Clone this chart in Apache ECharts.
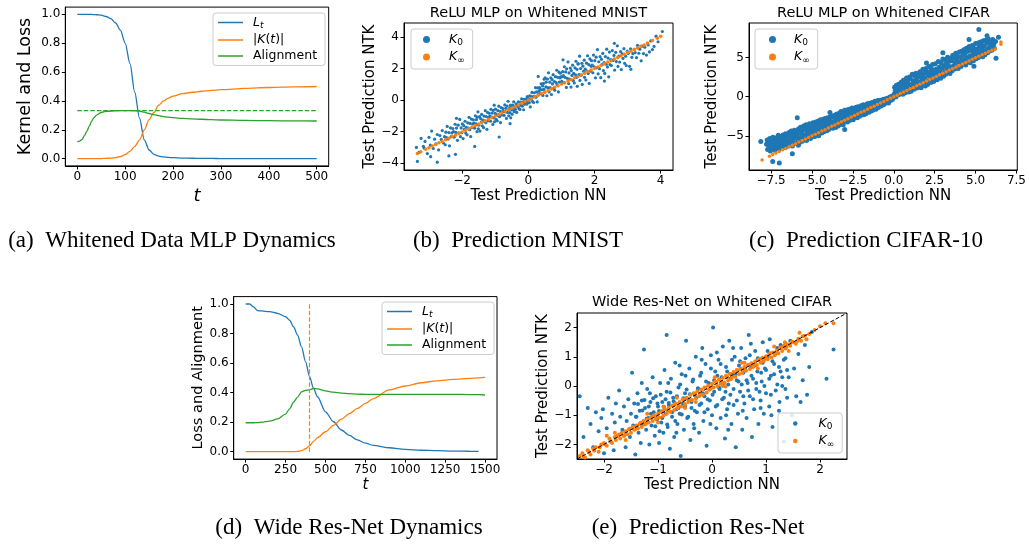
<!DOCTYPE html>
<html>
<head>
<meta charset="utf-8">
<script src="https://cdn.jsdelivr.net/npm/echarts@6/dist/echarts.min.js"></script>
<style>
  html, body { margin: 0; padding: 0; background: #fff; }
  #chart { width: 1029px; height: 544px; }
</style>
</head>
<body>
<div id="chart"></div>
<script>
// ---- (a) whitened MLP dynamics ----
const aT = [0,5,10,15,20,25,30,35,40,50,60,70,80,90,100,110,120,130,140,150,160,170,180,190,200,220,240,260,280,300,350,400,450,500]
const aLoss = [1.0,1.0,1.0,1.0,1.0,0.999,0.999,0.998,0.997,0.994,0.985,0.97,0.94,0.89,0.8,0.66,0.46,0.28,0.13,0.06,0.03,0.018,0.012,0.009,0.007,0.004,0.003,0.002,0.0015,0.001,0.0005,0.0003,0.0002,0.0001]
const aKern = [0,0,0,0,0,0,0,0,0,0.001,0.002,0.004,0.008,0.015,0.028,0.05,0.085,0.13,0.2,0.27,0.32,0.37,0.4,0.42,0.433,0.45,0.46,0.467,0.473,0.478,0.487,0.493,0.497,0.5]
const aAlign = [0.118,0.122,0.134,0.16,0.19,0.225,0.26,0.285,0.302,0.32,0.327,0.33,0.332,0.333,0.333,0.333,0.332,0.33,0.322,0.313,0.305,0.298,0.292,0.288,0.284,0.279,0.276,0.273,0.27,0.268,0.265,0.263,0.262,0.261]
const aLevel = 0.333

// ---- (d) wide res-net dynamics ----
const dT = [0,25,50,75,100,150,200,250,275,300,325,350,375,400,425,450,500,550,600,650,700,750,800,900,1000,1100,1200,1300,1400,1460,1500]
const dLoss = [1.0,1.0,0.98,0.955,0.953,0.948,0.937,0.914,0.89,0.846,0.79,0.71,0.61,0.51,0.43,0.372,0.27,0.203,0.147,0.11,0.08,0.058,0.043,0.027,0.016,0.01,0.007,0.004,0.003,0.002,null]
const dKern = [0,0,0,0,0,0,0,0,0,0,0.002,0.007,0.02,0.04,0.07,0.095,0.135,0.178,0.22,0.258,0.293,0.327,0.36,0.418,0.445,0.467,0.48,0.49,0.497,0.5,0.503]
const dAlign = [0.196,0.196,0.196,0.197,0.2,0.207,0.222,0.255,0.29,0.335,0.37,0.405,0.415,0.42,0.428,0.425,0.412,0.403,0.397,0.393,0.39,0.388,0.388,0.388,0.388,0.388,0.388,0.388,0.387,0.386,0.384]
const dMarkT = 400

// ---- (b) MNIST predictions: [NN, NTK] ----
const bK0 = [[-3.38,-3.01],[-3.3,-3.32],[-3.24,-2.44],[-3.17,-2.94],[-3.12,-2.63],[-3.05,-3.4],[-3.0,-2.37],[-2.96,-2.86],[-2.92,-1.97],[-2.87,-3.08],[-2.83,-2.49],[-2.79,-2.79],[-2.75,-2.19],[-2.71,-3.17],[-2.67,-2.26],[-2.63,-2.5],[-2.6,-1.94],[-2.56,-2.73],[-2.53,-2.33],[-2.51,-2.84],
  [-2.49,-2.04],[-2.47,-2.38],[-2.45,-1.68],[-2.42,-2.48],[-2.4,-2.07],[-2.38,-2.91],[-2.35,-1.77],[-2.33,-2.33],[-2.31,-2.09],[-2.28,-1.81],[-2.26,-2.01],[-2.24,-2.36],[-2.21,-1.54],[-2.19,-2.06],[-2.17,-1.78],[-2.14,-2.56],[-2.12,-1.6],[-2.1,-2.08],[-2.07,-1.23],[-2.05,-2.33],[-2.03,-1.77],[-2.01,-2.08],
  [-1.99,-1.52],[-1.97,-2.45],[-1.95,-1.63],[-1.93,-1.86],[-1.91,-1.35],[-1.89,-2.1],[-1.87,-1.73],[-1.85,-2.21],[-1.83,-1.45],[-1.81,-1.79],[-1.79,-1.1],[-1.77,-1.89],[-1.76,-1.49],[-1.74,-2.32],[-1.72,-1.21],[-1.7,-1.76],[-1.68,-1.52],[-1.66,-1.26],[-1.64,-1.46],[-1.62,-1.79],[-1.6,-1.0],[-1.58,-1.51],[-1.57,-1.25],[-1.55,-2.01],[-1.54,-1.09],[-1.53,-1.57],[-1.52,-0.75],[-1.51,-1.83],
  [-1.49,-1.59],[-1.47,-1.06],[-1.46,-1.97],[-1.44,-1.18],[-1.42,-1.4],[-1.41,-0.91],[-1.39,-1.64],[-1.37,-1.28],[-1.35,-1.75],[-1.34,-1.02],[-1.32,-1.34],[-1.3,-0.68],[-1.28,-1.44],[-1.27,-1.05],[-1.25,-1.86],[-1.23,-0.79],[-1.21,-1.31],[-1.2,-1.1],[-1.18,-0.84],[-1.16,-1.02],[-1.14,-1.35],[-1.13,-0.59],[-1.11,-1.08],[-1.09,-0.83],[-1.07,-1.55],[-1.06,-0.66],[-1.04,-1.13],[-1.03,-0.33],[-1.02,-1.38],[-1.0,-0.85],
  [-0.99,-0.58],[-0.97,-1.23],[-0.96,-0.92],[-0.94,-1.32],[-0.92,-0.68],[-0.91,-0.97],[-0.89,-0.39],[-0.87,-1.06],[-0.85,-0.72],[-0.84,-1.43],[-0.82,-0.48],[-0.8,-0.95],[-0.78,-0.75],[-0.77,-0.54],[-0.75,-0.7],[-0.73,-0.98],[-0.71,-0.31],[-0.7,-0.75],[-0.68,-0.53],[-0.66,-1.17],[-0.64,-0.38],[-0.63,-0.79],[-0.61,-0.08],[-0.59,-1.0],[-0.57,-0.53],[-0.56,-0.8],[-0.54,-0.33],[-0.53,-1.13],[-0.52,-0.44],[-0.5,-0.63],
  [-0.49,-0.9],[-0.47,-0.33],[-0.46,-0.61],[-0.44,-0.11],[-0.42,-0.74],[-0.41,-0.42],[-0.39,-0.59],[-0.37,-0.24],[-0.35,-0.79],[-0.34,-0.29],[-0.32,-0.42],[-0.3,-0.11],[-0.28,-0.55],[-0.27,-0.33],[-0.25,-0.6],[-0.23,-0.14],[-0.21,-0.33],[-0.2,0.08],[-0.18,-0.39],[-0.16,-0.14],[-0.14,-0.62],[-0.13,0.04],[-0.11,-0.27],[-0.09,-0.12],[-0.07,0.05],[-0.06,-0.07],[-0.04,-0.26],[-0.03,0.21],[-0.02,-0.09],[0.0,0.08],
  [0.01,0.05],[0.03,-0.17],[0.04,0.27],[0.06,-0.44],[0.08,0.23],[0.09,0.05],[0.11,0.48],[0.13,-0.1],[0.15,0.22],[0.16,-0.16],[0.18,0.46],[0.2,0.23],[0.22,0.78],[0.23,0.17],[0.25,0.51],[0.27,-0.12],[0.29,0.77],[0.3,0.34],[0.32,0.55],[0.34,0.78],[0.36,0.65],[0.37,0.39],[0.39,1.03],[0.41,0.65],[0.43,0.89],[0.44,0.29],[0.46,1.05],[0.47,0.68],[0.48,1.32],[0.5,0.51],
  [0.51,1.41],[0.53,0.83],[0.54,1.13],[0.56,0.27],[0.58,1.33],[0.59,0.78],[0.61,1.73],[0.63,0.51],[0.65,1.13],[0.66,0.78],[0.68,1.41],[0.7,0.35],[0.72,1.29],[0.73,1.02],[0.75,1.61],[0.77,0.75],[0.79,1.17],[0.8,0.62],[0.82,1.48],[0.84,1.11],[0.86,1.89],[0.87,0.98],[0.89,1.44],[0.91,0.51],[0.93,1.77],[0.94,1.14],[0.96,1.4],[0.97,1.7],[0.98,1.47],[1.0,1.09],
  [1.01,1.19],[1.03,1.48],[1.04,1.8],[1.06,1.55],[1.08,1.11],[1.09,2.11],[1.11,1.44],[1.13,1.78],[1.15,0.8],[1.16,1.98],[1.18,1.37],[1.2,2.42],[1.22,1.04],[1.23,1.72],[1.25,1.33],[1.27,2.03],[1.29,0.82],[1.3,1.87],[1.32,1.56],[1.34,2.21],[1.36,1.23],[1.37,1.69],[1.39,1.08],[1.41,2.04],[1.43,1.6],[1.44,2.46],[1.46,1.44],[1.47,1.95],[1.48,0.87],[1.5,2.29],
  [1.51,2.3],[1.53,1.61],[1.55,2.78],[1.56,1.24],[1.58,2.0],[1.6,1.57],[1.62,2.33],[1.63,0.99],[1.65,2.15],[1.67,1.82],[1.69,2.53],[1.7,1.44],[1.72,1.96],[1.74,1.27],[1.76,2.34],[1.77,1.84],[1.79,2.81],[1.81,1.68],[1.83,2.24],[1.84,1.05],[1.86,2.61],[1.88,1.83],[1.9,2.14],[1.91,2.5],[1.93,2.22],[1.95,1.73],[1.97,2.85],[1.99,2.11],
  [2.01,2.5],[2.03,1.41],[2.05,2.72],[2.07,2.04],[2.09,3.2],[2.11,1.66],[2.13,2.43],[2.15,1.99],[2.17,2.75],[2.19,1.42],[2.21,2.58],[2.23,2.24],[2.25,2.96],[2.27,1.87],[2.29,2.38],[2.31,1.69],[2.33,2.76],[2.35,2.27],[2.37,3.23],[2.39,2.1],[2.41,2.66],[2.43,1.47],[2.45,3.04],[2.47,2.25],[2.49,2.56],
  [2.51,2.19],[2.54,3.14],[2.56,2.51],[2.59,2.83],[2.61,1.9],[2.64,3.03],[2.66,2.44],[2.69,3.44],[2.71,2.13],[2.74,2.79],[2.76,2.41],[2.79,3.07],[2.81,1.93],[2.84,2.93],[2.86,2.64],[2.89,3.26],[2.91,2.33],[2.94,2.78],[2.96,2.19],[2.99,3.1],
  [3.02,2.96],[3.06,2.14],[3.09,3.25],[3.13,2.71],[3.16,2.94],[3.2,3.21],[3.23,3.01],[3.27,2.69],[3.3,3.47],[3.34,2.97],[3.37,3.23],[3.41,2.49],[3.44,3.42],[3.48,2.95],
  [3.52,3.35],[3.57,2.85],[3.62,3.5],[3.66,3.05],[3.7,3.75],[3.75,3.2],[3.8,3.4],[3.86,4.05],[3.92,3.7],[4.05,4.35],
  [-3.35,-3.9],[-2.75,-3.95],[-2.95,-3.6],[-2.4,-3.55],[-2.2,-3.45],[-1.62,-2.95],[-0.88,-2.35],[-0.55,-1.5],[-2.17,-1.16],[-3.15,-3.05],[0.3,1.5],[1.05,2.55],[2.6,3.6],[3.1,1.95],[2.3,1.2]]
const bKinf = [[-3.35,-3.4],[-3.25,-3.28],[-3.1,-3.12],[-3.0,-3.03],[-2.9,-2.92],[-2.8,-2.83],[-2.7,-2.72],[-2.6,-2.63],[-2.5,-2.52],[-2.4,-2.43],[-2.3,-2.32],[-2.2,-2.23],[-2.1,-2.12],[-2.0,-2.03],[-1.9,-1.92],[-1.8,-1.82],[-1.7,-1.72],[-1.6,-1.62],[-1.5,-1.52],[-1.4,-1.42],[-1.3,-1.32],[-1.2,-1.22],[-1.1,-1.12],[-1.0,-1.02],[-0.9,-0.92],[-0.8,-0.82],[-0.7,-0.72],[-0.6,-0.62],[-0.5,-0.52],[-0.4,-0.41],[-0.3,-0.31],[-0.2,-0.21],[-0.1,-0.1],[0.0,0.0],[0.1,0.1],[0.2,0.21],[0.3,0.3],[0.4,0.41],[0.5,0.5],[0.6,0.61],[0.7,0.7],[0.8,0.81],[0.9,0.9],[1.0,1.01],[1.1,1.1],[1.2,1.21],[1.3,1.3],[1.4,1.41],[1.5,1.5],[1.6,1.61],[1.7,1.7],[1.8,1.81],[1.9,1.9],[2.0,2.01],[2.1,2.1],[2.2,2.21],[2.3,2.3],[2.4,2.41],[2.5,2.5],[2.6,2.61],[2.7,2.7],[2.8,2.81],[2.9,2.9],[3.0,3.01],[3.1,3.1],[3.2,3.21],[3.3,3.3],[3.4,3.41],[3.5,3.5],[3.6,3.62],[3.75,3.77],[3.9,3.92],[4.0,4.05]]

// ---- (c) CIFAR predictions ----
const cK0 = [[-7.78,-6.1],[-7.74,-5.55],[-7.71,-6.75],[-7.66,-5.9],[-7.63,-6.4],[-7.58,-5.35],[-7.55,-6.95],[-7.5,-6.05],[-7.47,-5.6],[-7.43,-6.6],[-7.39,-5.2],[-7.35,-6.3],[-7.31,-5.75],
  [-7.28,-6.85],[-7.25,-5.95],[-7.22,-5.3],[-7.18,-6.5],[-7.14,-5.65],[-7.1,-6.1],[-7.06,-4.95],[-7.02,-6.7],[-6.99,-5.45],[-6.95,-6.25],[-6.91,-5.1],[-6.87,-5.85],[-6.84,-6.55],[-6.8,-5.3],
  [-6.77,-4.9],[-6.74,-6.2],[-6.7,-5.6],[-6.66,-6.5],[-6.62,-4.75],[-6.59,-5.3],[-6.55,-5.95],[-6.51,-4.95],[-6.48,-6.35],[-6.44,-5.5],[-6.4,-4.6],[-6.37,-5.85],[-6.33,-6.15],[-6.3,-5.05],
  [-6.27,-4.4],[-6.23,-5.6],[-6.2,-6.3],[-6.16,-4.85],[-6.12,-5.35],[-6.08,-4.3],[-6.05,-5.95],[-6.01,-5.1],[-5.97,-4.55],[-5.94,-6.0],[-5.9,-4.95],[-5.86,-5.55],[-5.83,-4.15],[-5.8,-5.3],
  [-5.77,-5.9],[-5.73,-4.6],[-5.7,-3.9],[-5.66,-5.2],[-5.62,-4.35],[-5.59,-5.7],[-5.55,-4.85],[-5.51,-3.75],[-5.48,-5.45],[-5.44,-4.2],[-5.4,-4.95],[-5.37,-3.6],[-5.33,-5.6],[-5.3,-4.5],
  [-5.27,-3.9],[-5.23,-5.25],[-5.2,-4.7],[-5.16,-3.45],[-5.12,-4.15],[-5.09,-5.35],[-5.05,-3.7],[-5.01,-4.55],[-4.98,-5.05],[-4.94,-3.35],[-4.9,-4.3],[-4.87,-3.85],[-4.83,-5.1],[-4.8,-4.0],
  [-4.77,-3.25],[-4.73,-4.7],[-4.7,-3.75],[-4.66,-4.25],[-4.62,-3.1],[-4.59,-5.0],[-4.55,-3.55],[-4.51,-4.45],[-4.48,-2.95],[-4.44,-3.9],[-4.4,-4.65],[-4.37,-3.3],[-4.33,-4.05],[-4.3,-2.9],
  [-4.27,-4.5],[-4.23,-3.5],[-4.2,-2.8],[-4.16,-3.95],[-4.12,-3.15],[-4.09,-4.35],[-4.05,-2.7],[-4.01,-3.65],[-3.98,-4.2],[-3.94,-3.0],[-3.9,-3.45],[-3.87,-2.55],[-3.83,-3.9],[-3.8,-3.25],
  [-3.77,-2.6],[-3.73,-4.05],[-3.7,-3.35],[-3.66,-2.4],[-3.62,-3.7],[-3.59,-2.9],[-3.55,-3.95],[-3.51,-2.25],[-3.48,-3.2],[-3.44,-2.65],[-3.4,-3.75],[-3.37,-2.15],[-3.33,-3.05],[-3.3,-3.55],
  [-3.27,-2.4],[-3.23,-1.9],[-3.2,-3.3],[-3.16,-2.7],[-3.12,-2.05],[-3.09,-3.6],[-3.05,-2.45],[-3.01,-1.75],[-2.98,-3.1],[-2.94,-2.25],[-2.9,-2.8],[-2.87,-1.7],[-2.83,-3.25],[-2.8,-2.0],
  [-2.77,-2.6],[-2.73,-1.6],[-2.7,-3.05],[-2.66,-2.15],[-2.62,-1.85],[-2.59,-2.8],[-2.55,-1.45],[-2.51,-2.4],[-2.48,-2.95],[-2.44,-1.7],[-2.4,-2.15],[-2.37,-2.65],[-2.33,-1.4],[-2.3,-2.3],
  [-2.27,-1.75],[-2.23,-2.7],[-2.2,-1.3],[-2.16,-2.2],[-2.12,-1.55],[-2.09,-2.5],[-2.05,-1.9],[-2.01,-1.15],[-1.98,-2.35],[-1.94,-1.6],[-1.9,-2.05],[-1.87,-1.05],[-1.83,-2.3],[-1.8,-1.45],
  [-1.77,-1.9],[-1.73,-1.1],[-1.7,-2.2],[-1.66,-1.4],[-1.62,-0.9],[-1.59,-1.75],[-1.55,-1.25],[-1.51,-2.0],[-1.48,-0.85],[-1.44,-1.55],[-1.4,-1.1],[-1.37,-1.85],[-1.33,-0.75],[-1.3,-1.35],
  [-1.27,-1.7],[-1.23,-0.95],[-1.2,-1.4],[-1.16,-0.6],[-1.12,-1.15],[-1.09,-1.6],[-1.05,-0.7],[-1.01,-1.25],[-0.98,-0.5],[-0.94,-1.4],[-0.9,-0.85],[-0.87,-1.15],[-0.83,-0.45],[-0.8,-0.95],
  [-0.77,-1.2],[-0.73,-0.55],[-0.7,-0.85],[-0.66,-0.35],[-0.62,-1.05],[-0.58,-0.6],[-0.55,-0.3],[-0.51,-0.85],[-0.47,-0.45],[-0.43,-0.7],[-0.4,-0.2],[-0.36,-0.55],[-0.32,-0.8],[-0.28,-0.3],[-0.24,-0.05],[-0.2,-0.5],[-0.16,-0.25],[-0.12,0.05],[-0.08,-0.35],[-0.04,-0.1],
  [0.02,0.3],[0.05,1.2],[0.09,0.75],[0.12,-0.05],[0.16,1.45],[0.19,0.5],[0.23,1.0],[0.27,0.2],[0.3,1.6],[0.34,0.8],[0.38,0.35],[0.41,1.25],[0.45,1.85],[0.48,0.6],
  [0.52,1.5],[0.56,0.3],[0.59,2.1],[0.63,0.95],[0.67,1.7],[0.7,0.5],[0.74,1.25],[0.78,2.4],[0.81,0.8],[0.85,1.9],[0.89,1.4],[0.92,0.6],[0.96,2.5],[0.99,1.1],
  [1.02,2.3],[1.06,0.7],[1.09,1.6],[1.13,2.85],[1.17,1.15],[1.2,2.0],[1.24,0.95],[1.28,2.65],[1.31,1.5],[1.35,3.0],[1.38,2.2],[1.42,1.1],[1.46,1.8],[1.49,2.9],
  [1.53,1.4],[1.56,2.5],[1.6,3.2],[1.64,1.9],[1.67,1.15],[1.71,2.75],[1.75,2.2],[1.78,3.5],[1.82,1.6],[1.86,2.95],[1.89,2.35],[1.93,1.35],[1.97,3.6],[2.0,2.05],
  [2.04,3.2],[2.07,1.55],[2.11,2.7],[2.15,3.85],[2.18,2.1],[2.22,3.05],[2.26,1.8],[2.29,3.55],[2.33,2.5],[2.37,4.1],[2.4,2.95],[2.44,1.95],[2.47,3.4],[2.5,2.35],
  [2.54,4.2],[2.57,2.7],[2.61,3.55],[2.65,2.15],[2.68,3.1],[2.72,4.5],[2.76,2.55],[2.79,3.8],[2.83,3.25],[2.87,2.35],[2.9,4.35],[2.94,2.9],[2.97,3.65],[3.0,4.8],
  [3.04,2.6],[3.07,3.95],[3.11,3.2],[3.15,4.7],[3.18,2.85],[3.22,4.25],[3.26,3.6],[3.29,5.05],[3.33,3.05],[3.37,4.5],[3.4,3.85],[3.44,2.95],[3.47,4.95],[3.5,3.4],
  [3.54,4.6],[3.57,3.3],[3.61,5.3],[3.65,3.95],[3.68,4.9],[3.72,3.55],[3.76,4.3],[3.79,5.55],[3.83,3.7],[3.87,4.65],[3.9,5.2],[3.94,3.6],[3.97,4.4],[4.0,5.7],
  [4.04,4.0],[4.07,5.05],[4.11,3.85],[4.15,5.8],[4.18,4.55],[4.22,5.3],[4.26,4.15],[4.29,6.0],[4.33,4.75],[4.37,5.55],[4.4,4.05],[4.44,6.2],[4.47,5.0],[4.5,4.4],
  [4.54,5.8],[4.57,4.5],[4.61,6.4],[4.65,5.2],[4.68,4.35],[4.72,5.95],[4.76,4.8],[4.79,6.55],[4.83,5.45],[4.87,4.6],[4.9,6.2],[4.94,5.05],[4.97,5.7],[5.0,6.8],
  [5.04,4.85],[5.07,6.05],[5.11,5.4],[5.15,6.85],[5.18,5.0],[5.22,6.4],[5.26,5.75],[5.29,7.0],[5.33,5.25],[5.37,6.6],[5.4,6.05],[5.44,5.1],[5.47,7.15],[5.5,5.7],
  [5.54,6.5],[5.58,5.35],[5.62,7.2],[5.66,6.0],[5.7,6.85],[5.74,5.6],[5.78,7.4],[5.82,6.3],[5.86,5.85],[5.9,7.0],[5.95,6.55],[6.0,5.95],[6.05,7.3],[6.1,6.7],[6.15,6.2],[6.22,7.05],
  [-8.13,-5.75],[-7.4,-8.3],[-7.0,-8.5],[-5.83,-6.2],[-3.9,-2.03],[-6.2,-7.3],[-5.9,-2.7],[-3.0,-4.2],[5.2,8.6],[4.6,7.3],[5.7,7.8],[6.25,4.9],[3.0,5.6],[6.4,7.6],[2.0,4.3],[4.9,3.9]]
const cKinf = [[-7.6,-7.62],[-7.4,-7.4],[-7.2,-7.22],[-7.0,-7.02],[-6.8,-6.8],[-6.6,-6.62],[-6.4,-6.41],[-6.2,-6.2],[-6.0,-6.02],[-5.8,-5.81],[-5.6,-5.6],[-5.4,-5.42],[-5.2,-5.21],[-5.0,-5.0],[-4.8,-4.82],[-4.6,-4.61],[-4.4,-4.4],[-4.2,-4.22],[-4.0,-4.01],[-3.8,-3.8],[-3.6,-3.62],[-3.4,-3.41],[-3.2,-3.2],[-3.0,-3.02],[-2.8,-2.81],[-2.6,-2.6],[-2.4,-2.42],[-2.2,-2.21],[-2.0,-2.0],[-1.8,-1.82],[-1.6,-1.61],[-1.4,-1.4],[-1.2,-1.22],[-1.0,-1.01],[-0.8,-0.8],[-0.6,-0.62],[-0.4,-0.41],[-0.2,-0.2],[0.0,-0.02],[0.2,0.19],[0.4,0.4],[0.6,0.58],[0.8,0.79],[1.0,1.0],[1.2,1.18],[1.4,1.39],[1.6,1.6],[1.8,1.78],[2.0,1.99],[2.2,2.2],[2.4,2.38],[2.6,2.59],[2.8,2.8],[3.0,2.98],[3.2,3.19],[3.4,3.4],[3.6,3.58],[3.8,3.77],[4.0,3.98],[4.2,4.17],[4.4,4.38],[4.6,4.57],[4.8,4.77],[5.0,4.96],[5.2,5.17],[5.4,5.36],[5.6,5.56],[5.8,5.75],[6.0,5.95],[6.2,6.1],[-8.05,-8.1],[6.55,6.7],[6.55,7.0]]

// ---- (e) Res-Net predictions ----
const eK0 = [[-2.45,-0.35],[-2.38,-1.75],[-2.3,-0.75],[-2.25,-1.3],[-2.2,-2.1],[-2.15,-0.9],[-2.1,-1.55],[-2.05,-1.1],[-2.02,-0.8],[-2.0,-2.3],
  [-1.95,-1.45],[-1.92,-0.4],[-1.88,-1.9],[-1.85,-0.95],[-1.82,-2.2],[-1.8,-1.25],[-1.78,-0.6],[-1.75,-1.7],[-1.72,-0.15],[-1.7,-1.05],[-1.66,-1.5],[-1.63,-0.7],[-1.6,-2.1],[-1.58,-1.2],[-1.55,-0.45],[-1.52,-1.75],[-1.5,-0.95],
  [-1.48,0.45],[-1.46,-1.35],[-1.44,-0.6],[-1.42,-2.35],[-1.4,-1.05],[-1.38,-0.25],[-1.36,-1.6],[-1.34,-0.85],[-1.32,-1.95],[-1.3,-0.5],[-1.28,-1.3],[-1.26,1.25],[-1.24,-0.75],[-1.22,-1.5],[-1.2,-0.1],[-1.18,-1.1],[-1.16,-2.0],[-1.14,-0.55],[-1.12,-1.35],[-1.1,0.3],[-1.08,-0.9],[-1.06,-1.7],[-1.04,-0.35],[-1.02,-1.15],[-1.0,-0.7],
  [-0.98,-1.95],[-0.96,0.1],[-0.94,-1.25],[-0.92,-0.55],[-0.9,-1.6],[-0.88,0.55],[-0.86,-0.95],[-0.84,1.75],[-0.84,-0.2],[-0.82,-1.4],[-0.8,-0.65],[-0.78,-2.15],[-0.76,0.25],[-0.74,-1.05],[-0.72,-0.4],[-0.7,-1.75],[-0.68,0.8],[-0.66,-0.8],[-0.64,-1.3],[-0.62,-0.05],[-0.6,-0.95],[-0.58,-2.4],[-0.56,0.4],[-0.54,-0.6],[-0.52,-1.5],[-0.5,-0.25],
  [-0.48,1.55],[-0.46,-1.1],[-0.44,-0.45],[-0.42,0.6],[-0.4,-1.85],[-0.38,-0.75],[-0.36,0.15],[-0.34,-1.3],[-0.32,-0.3],[-0.3,1.0],[-0.28,-0.9],[-0.26,-0.1],[-0.24,-1.6],[-0.22,0.35],[-0.2,-0.6],[-0.18,1.3],[-0.16,-1.2],[-0.14,-0.35],[-0.12,0.75],[-0.1,-2.05],[-0.08,-0.8],[-0.06,0.1],[-0.04,-0.5],[-0.02,1.05],[0.0,-1.0],
  [0.02,2.0],[0.04,-0.2],[0.06,0.5],[0.08,-1.45],[0.1,-0.65],[0.12,0.9],[0.14,-0.1],[0.16,-1.1],[0.18,0.3],[0.2,1.35],[0.22,-0.4],[0.24,-1.8],[0.26,0.65],[0.28,-0.8],[0.3,0.05],[0.32,1.55],[0.34,-0.3],[0.36,-1.3],[0.38,0.4],[0.4,-0.65],[0.42,1.0],[0.44,-2.1],[0.46,0.2],[0.48,-0.95],[0.5,0.7],
  [0.52,-0.2],[0.54,1.3],[0.56,-1.5],[0.58,0.45],[0.6,-0.6],[0.62,0.95],[0.64,-1.1],[0.66,0.1],[0.68,1.75],[0.7,-0.35],[0.72,0.65],[0.74,-1.75],[0.76,0.25],[0.78,-0.8],[0.8,1.2],[0.82,-0.1],[0.84,0.5],[0.86,-1.3],[0.88,0.9],[0.9,-0.5],[0.92,0.15],[0.94,1.5],[0.96,-0.95],[0.98,0.6],[1.0,-0.25],
  [1.03,1.0],[1.06,-0.7],[1.09,0.35],[1.12,-1.4],[1.15,0.75],[1.18,-0.15],[1.21,1.3],[1.24,-0.85],[1.27,0.5],[1.3,0.0],[1.33,-1.9],[1.36,0.95],[1.39,-0.4],[1.42,0.3],[1.45,1.55],[1.48,-1.0],
  [1.52,0.6],[1.56,-0.35],[1.6,1.1],[1.64,-0.55],[1.68,0.2],[1.72,1.4],[1.76,-0.3],[1.8,0.65],[1.85,1.85],[2.12,0.25],[2.25,1.25],
  [-1.41,-1.05],[-1.37,-0.62],[-1.33,-1.28],[-1.29,-0.84],[-1.25,-0.48],[-1.21,-1.12],[-1.17,-0.7],[-1.13,-0.95],[-1.09,-0.42],[-1.05,-1.38],[-1.01,-0.6],[-0.98,-0.86],[-0.95,-0.3],[-0.92,-1.1],[-0.89,-0.72],[-0.86,-0.45],[-0.83,-1.32],[-0.8,-0.58],[-0.77,-0.22],[-0.74,-0.9],[-0.71,-0.52],[-0.68,-1.2],[-0.65,-0.35],[-0.62,-0.75],[-0.59,0.05],[-0.56,-0.98],[-0.53,-0.42],[-0.5,-0.7],[-0.47,-0.12],[-0.44,-1.05],[-0.41,-0.28],[-0.38,-0.55],[-0.35,0.22],[-0.32,-0.85],[-0.29,-0.4],[-0.26,-0.08],[-0.23,-0.65],[-0.2,0.45],[-0.17,-0.25],[-0.14,-0.9],[-0.11,0.15],[-0.08,-0.45],[-0.05,-0.12],[-0.02,0.6],[0.01,-0.3],[0.04,0.2],[0.07,-0.7],[0.1,0.35],[0.13,-0.05],[0.16,0.75],[0.19,-0.45],[0.22,0.1],[0.25,-0.2],[0.28,0.5],[0.31,-0.6],[0.34,0.25],[0.37,0.9],[0.4,-0.1],[0.43,0.4],[0.46,-0.5],[0.49,0.15],[0.52,0.85],[0.55,0.05],[0.58,-0.35],[0.61,0.6],[0.64,0.2],[0.67,-0.15],[0.7,1.05],[0.73,0.35],[0.76,-0.45],[0.79,0.7],[0.82,0.1],[0.85,0.95],[0.88,-0.2],[0.91,0.45],[0.94,0.8],[0.97,0.0],[1.0,0.55],[1.03,1.2],[1.06,0.25],[1.09,-0.3],[1.12,0.85],[1.15,0.4],[1.18,1.1],[1.21,0.05],[1.24,0.65],[1.27,1.4],[1.3,0.3],[1.33,0.9],[1.36,-0.1],[1.39,0.55],
  [-1.15,-0.25],[-0.97,-1.55],[-0.81,0.1],[-0.66,-1.6],[-0.49,0.35],[-0.33,-1.45],[-0.19,0.9],[-0.03,-1.3],[0.09,1.15],[0.26,-1.0],[0.39,1.3],[0.57,-0.85],[0.72,1.45],[0.9,-0.75],[1.07,1.6],[1.25,-0.55],[-1.3,0.1],[-0.6,0.7],[0.3,-1.5],[1.1,-1.0]]
const eKinf = [[-2.45,-2.4],[-2.4,-2.3],[-2.35,-2.45],[-2.3,-2.2],[-2.25,-2.35],[-2.2,-2.15],[-2.15,-2.1],[-2.1,-2.25],[-2.05,-2.0],[-2.0,-1.95],[-1.95,-2.05],[-1.9,-1.8],[-1.85,-1.95],[-1.8,-1.75],[-1.8,-1.6],[-1.78,-1.85],[-1.75,-1.7],[-1.7,-1.8],[-1.67,-1.6],[-1.64,-1.7],[-1.6,-1.55],[-1.57,-1.65],[-1.54,-1.48],[-1.5,-1.6],[-1.47,-1.4],[-1.44,-1.5],[-1.4,-1.35],[-1.37,-1.45],[-1.34,-1.3],[-1.3,-1.4],[-1.27,-1.2],[-1.24,-1.32],[-1.2,-1.15],[-1.17,-1.25],[-1.14,-1.1],[-1.1,-1.2],[-1.07,-1.0],[-1.04,-1.12],[-1.0,-0.95],[-0.97,-1.08],[-0.94,-0.9],[-0.9,-1.02],[-0.9,-0.7],[-0.87,-0.8],[-0.84,-0.95],[-0.8,-0.75],[-0.77,-0.88],[-0.74,-0.68],[-0.7,-0.82],[-0.67,-0.6],[-0.64,-0.75],[-0.6,-0.55],[-0.57,-0.7],[-0.54,-0.45],[-0.5,-0.62],[-0.5,-0.75],[-0.47,-0.4],[-0.44,-0.55],[-0.4,-0.3],[-0.37,-0.48],[-0.34,-0.25],[-0.3,-0.42],[-0.27,-0.18],[-0.24,-0.35],[-0.2,-0.12],[-0.17,-0.3],[-0.14,-0.05],[-0.1,-0.22],[-0.07,0.02],[-0.04,-0.12],[0.0,0.08],[0.03,-0.05],[0.06,0.15],[0.1,0.0],[0.13,0.22],[0.16,0.08],[0.2,0.28],[0.2,0.0],[0.23,0.12],[0.26,0.35],[0.3,0.2],[0.33,0.42],[0.36,0.25],[0.4,0.48],[0.43,0.32],[0.46,0.55],[0.5,0.4],[0.53,0.6],[0.56,0.45],[0.6,0.65],[0.6,0.8],[0.63,0.52],[0.66,0.72],[0.7,0.58],[0.73,0.78],[0.76,0.65],[0.8,0.85],[0.83,0.72],[0.86,0.9],[0.9,0.8],[0.93,0.97],[0.96,0.86],[1.0,1.02],[1.03,0.92],[1.06,1.1],[1.1,0.98],[1.13,1.15],[1.16,1.05],[1.2,1.22],[1.23,1.12],[1.26,1.3],[1.3,1.2],[1.33,1.38],[1.35,1.5],[1.36,1.28],[1.4,1.42],[1.45,1.38],[1.5,1.5],[1.55,1.45],[1.6,1.62],[1.65,1.55],[1.72,1.72],[1.8,1.78],[1.9,1.92],[2.1,2.15],[2.25,2.15],
  [-2.38,-2.42],[-2.28,-2.26],[-2.18,-2.22],[-2.08,-2.1],[-1.98,-2.0],[-1.88,-1.9],[-1.72,-1.66],[-1.62,-1.7],[-1.52,-1.46],[-1.42,-1.48],[-1.32,-1.26],[-1.22,-1.28],[-1.12,-1.06],[-1.02,-1.08],[-0.92,-0.86],[-0.82,-0.88],[-0.72,-0.66],[-0.62,-0.68],[-0.52,-0.46],[-0.42,-0.48],[-0.32,-0.26],[-0.22,-0.28],[-0.12,-0.06],[-0.02,-0.08],[0.08,0.12],[0.18,0.14],[0.28,0.32],[0.38,0.34],[0.48,0.52],[0.58,0.54],[0.68,0.72],[0.78,0.74],[0.88,0.92],[0.98,0.94],[1.08,1.12],[1.18,1.14],[1.28,1.32],[1.38,1.34],[1.48,1.52],[1.58,1.54],[1.68,1.7],
  [-1.95,-1.7],[-1.6,-1.85],[-1.2,-0.95],[-1.0,-1.25],[-0.65,-0.4],[-0.3,-0.55],[0.05,0.3],[0.25,-0.02],[0.55,0.8],[0.85,0.6],[1.15,1.35],[1.42,1.2],[1.62,1.82],[1.75,1.6],[2.0,2.05]]

// ticks
const aXTicks = [0,100,200,300,400,500]
const aYTicks = [0,0.2,0.4,0.6,0.8,1.0]
const bXTicks = [-2,0,2,4]
const bYTicks = [-4,-2,0,2,4]
const cXTicks = [-7.5,-5,-2.5,0,2.5,5,7.5]
const cYTicks = [-5,0,5]
const dXTicks = [0,250,500,750,1000,1250,1500]
const dYTicks = [0,0.2,0.4,0.6,0.8,1.0]
const eXTicks = [-2,-1,0,1,2]
const eYTicks = [-2,-1,0,1,2]

const C = { blue: '#1f77b4', orange: '#ff7f0e', green: '#2ca02c' }
const FONT = 'DejaVu Sans'
const minus = s => String(s).replace('-', '\u2212')

function axis(gi, min, max, ticks, fmt, name, gap, nameStyle) {
  return {
    type: 'value', gridIndex: gi, min, max, name, nameGap: gap, nameLocation: 'middle',
    nameTextStyle: Object.assign({ fontFamily: FONT, color: '#000', fontSize: 15 }, nameStyle || {}),
    axisLine: { show: true, onZero: false, lineStyle: { color: '#000', width: 1 } },
    axisTick: { show: true, length: 3.5, lineStyle: { color: '#000', width: 1 }, customValues: ticks },
    axisLabel: { customValues: ticks, color: '#000', fontFamily: FONT, fontSize: 12, margin: 5, formatter: v => minus(fmt(v)) },
    splitLine: { show: false }
  }
}
const grid = (left, top, width, height) => ({ left, top, width, height, show: true, borderColor: '#000', borderWidth: 1, backgroundColor: 'transparent' })

const line = (name, gi, xs, ys, color, extra) => Object.assign({
  name, type: 'line', xAxisIndex: gi, yAxisIndex: gi, data: xs.map((x, i) => [x, ys[i]]),
  showSymbol: false, symbol: 'none', smooth: 0.3, smoothMonotone: 'x', color,
  lineStyle: { color, width: 1.3 }, animation: false, z: 3
}, extra || {})
const scat = (name, gi, pts, color, size) => ({
  name, type: 'scatter', xAxisIndex: gi, yAxisIndex: gi, data: pts, symbolSize: size, color,
  itemStyle: { color, opacity: 1 }, animation: false, z: 2
})

const rich = {
  it: { fontFamily: FONT, fontStyle: 'italic', fontSize: 12.5, color: '#000', lineHeight: 16 },
  n: { fontFamily: FONT, fontSize: 12.5, color: '#000', lineHeight: 16 },
  st: { fontFamily: FONT, fontStyle: 'italic', fontSize: 9, color: '#000', lineHeight: 9, verticalAlign: 'bottom' },
  su: { fontFamily: FONT, fontSize: 9, color: '#000', lineHeight: 9, verticalAlign: 'bottom' }
}
const labels = {
  Lt: '{it|L}{st|t}', Kt: '{n||}{it|K}{n|(}{it|t}{n|)|}', Al: '{n|Alignment}',
  K0: '{it|K}{su|0}', Kinf: '{it|K}{su|\u221e}'
}
const legendBox = (names, left, top, o) => Object.assign({
  data: names, left, top, orient: 'vertical', selectedMode: false,
  backgroundColor: 'rgba(255,255,255,0.85)', borderColor: '#ccc', borderWidth: 1, borderRadius: 3,
  formatter: n => labels[n.split('_')[1]],
  textStyle: { rich, padding: [0, 0, 0, 5] }
}, o)

const chart = echarts.init(document.getElementById('chart'), null, { renderer: 'canvas' })
chart.setOption({
  animation: false,
  textStyle: { fontFamily: FONT },
  grid: [
    grid(65.3, 7.1, 263.4, 158.8),
    grid(404, 23, 269, 147),
    grid(749, 23, 269, 147),
    grid(233.7, 296.6, 263.3, 162.5),
    grid(577, 313, 270, 146)
  ],
  xAxis: [
    axis(0, -25, 525, aXTicks, v => v, 't', 21, { fontStyle: 'italic', fontSize: 18 }),
    axis(1, -3.755, 4.372, bXTicks, v => v, 'Test Prediction NN', 19),
    axis(2, -8.85, 7.55, cXTicks, v => v.toFixed(1), 'Test Prediction NN', 19),
    axis(3, -75, 1575, dXTicks, v => v, 't', 19, { fontStyle: 'italic', fontSize: 15 }),
    axis(4, -2.5, 2.5, eXTicks, v => v, 'Test Prediction NN', 19)
  ],
  yAxis: [
    axis(0, -0.05, 1.05, aYTicks, v => v.toFixed(1), 'Kernel and Loss', 31, { fontSize: 17.5 }),
    axis(1, -4.444, 4.889, bYTicks, v => v, 'Test Prediction NTK', 25),
    axis(2, -9.38, 9.42, cYTicks, v => v, 'Test Prediction NTK', 29),
    axis(3, -0.05, 1.05, dYTicks, v => v.toFixed(1), 'Loss and Alignment', 27, { fontSize: 14.6 }),
    axis(4, -2.5, 2.5, eYTicks, v => v, 'Test Prediction NTK', 26)
  ],
  legend: [
    legendBox(['a_Lt', 'a_Kt', 'a_Al'], 213, 13, { icon: 'rect', itemWidth: 25, itemHeight: 1.5, itemGap: 3, padding: [3, 8, 3, 5] }),
    legendBox(['b_K0', 'b_Kinf'], 411, 29, { icon: 'circle', itemWidth: 7, itemHeight: 7, itemGap: 3, padding: [4, 8, 4, 12], textStyle: { rich, padding: [0, 0, 0, 14] } }),
    legendBox(['c_K0', 'c_Kinf'], 755, 29, { icon: 'circle', itemWidth: 7, itemHeight: 7, itemGap: 3, padding: [4, 8, 4, 14], textStyle: { rich, padding: [0, 0, 0, 13] } }),
    legendBox(['d_Lt', 'd_Kt', 'd_Al'], 382, 302, { icon: 'rect', itemWidth: 25, itemHeight: 1.5, itemGap: 3, padding: [3, 8, 3, 5] }),
    legendBox(['e_K0', 'e_Kinf'], 778, 413, { icon: 'circle', itemWidth: 4.5, itemHeight: 4.5, itemGap: 3, padding: [4, 8, 4, 15], textStyle: { rich, padding: [0, 0, 0, 16] } })
  ],
  series: [
    line('a_Lt', 0, aT, aLoss, C.blue),
    line('a_Kt', 0, aT, aKern, C.orange),
    line('a_Al', 0, aT, aAlign, C.green),
    line('a_level', 0, [0, 500], [aLevel, aLevel], C.green, { smooth: false, lineStyle: { color: C.green, width: 1.2, type: [4.5, 2] } }),

    scat('b_K0', 1, bK0, C.blue, 3.2),
    scat('b_Kinf', 1, bKinf, C.orange, 3.5),

    scat('c_K0', 2, cK0, C.blue, 5),
    scat('c_Kinf', 2, cKinf, C.orange, 3.5),

    line('d_Lt', 3, dT, dLoss, C.blue),
    line('d_Kt', 3, dT, dKern, C.orange),
    line('d_Al', 3, dT, dAlign, C.green),
    line('d_mark', 3, [dMarkT, dMarkT], [0, 1], C.orange, { smooth: false, lineStyle: { color: C.orange, width: 1.2, type: [4.5, 2] } }),

    scat('e_K0', 4, eK0, C.blue, 4),
    scat('e_Kinf', 4, eKinf, C.orange, 4),
    line('e_diag', 4, [-2.5, 2.5], [-2.5, 2.5], '#000', { smooth: false, z: 4, lineStyle: { color: '#000', width: 1, type: [4, 2] } })
  ],
  graphic: [
    ['ReLU MLP on Whitened MNIST', 538.5, 13, 14.5, FONT],
    ['ReLU MLP on Whitened CIFAR', 883.5, 13, 14.5, FONT],
    ['Wide Res-Net on Whitened CIFAR', 712, 302, 14.5, FONT],
    ['(a)\u2002Whitened Data MLP Dynamics', 172, 241, 23, 'Liberation Serif'],
    ['(b)\u2002Prediction MNIST', 518, 241, 23, 'Liberation Serif'],
    ['(c)\u2002Prediction CIFAR-10', 866, 241, 23, 'Liberation Serif'],
    ['(d)\u2002Wide Res-Net Dynamics', 349, 528, 23, 'Liberation Serif'],
    ['(e)\u2002Prediction Res-Net', 698, 528, 23, 'Liberation Serif']
  ].map(([text, x, y, size, fam]) => ({
    type: 'text', x, y, z: 10,
    style: { text, fill: '#000', font: `${size}px "${fam}"`, textAlign: 'center', textVerticalAlign: 'middle', align: 'center', verticalAlign: 'middle' }
  }))
})
</script>
</body>
</html>
